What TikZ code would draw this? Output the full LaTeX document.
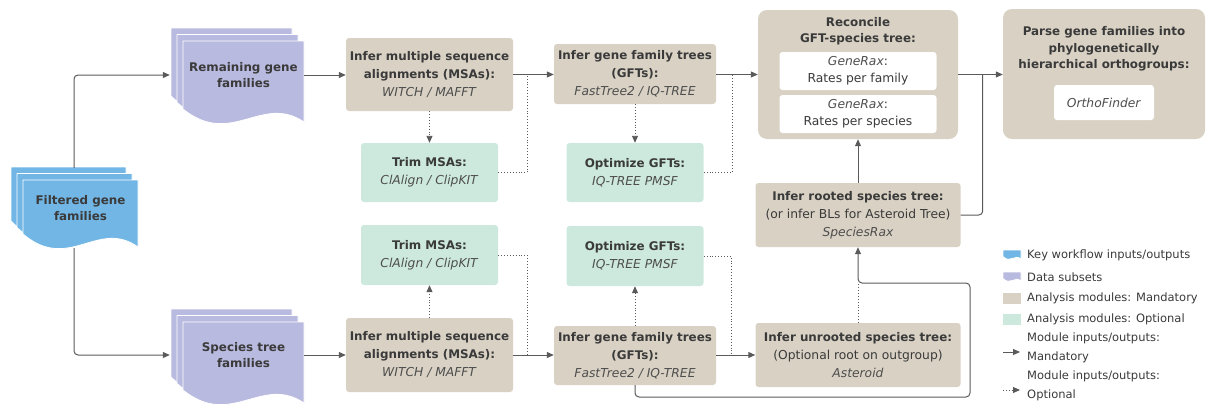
\documentclass[tikz,border=0pt]{standalone}
\usepackage{fontspec}
\setmainfont{DejaVu Sans}
\usetikzlibrary{arrows.meta,calc}
\definecolor{docblue}{HTML}{72B6E5}
\definecolor{docpurple}{HTML}{B9BAE0}
\definecolor{tan}{HTML}{D8D1C4}
\definecolor{mint}{HTML}{CDE9DE}
\definecolor{ln}{HTML}{5A5A5A}
\definecolor{txt}{HTML}{3A3A3A}
\definecolor{sub}{HTML}{4E4E4E}
% x0 y0 x1 yb color amplitude
\newcommand{\docpage}[6]{%
  \fill[#5, draw=white, line width=0.8pt] (#1,{#4-#6}) -- (#1,#2) -- (#3,#2) -- (#3,#4)
    .. controls ({#3-0.35*(#3-#1)},{#4-2.2*#6}) and ({#1+0.4*(#3-#1)},{#4+2*#6}) .. (#1,{#4-#6}) -- cycle;}
\newcommand{\docstack}[5]{%
  \docpage{#1-12}{#2-13}{#3-12}{#4-13}{#5}{13}%
  \docpage{#1-6}{#2-6.5}{#3-6}{#4-6.5}{#5}{13}%
  \docpage{#1}{#2}{#3}{#4}{#5}{13}}
\tikzset{
  fnt/.style={font=\fontsize{12.3}{18}\selectfont},
  mand/.style={fill=tan, rounded corners=3pt, align=center, inner sep=0pt, text=txt, fnt},
  optb/.style={fill=mint, rounded corners=3pt, align=center, inner sep=0pt, text=txt, fnt},
  big/.style={fill=tan, rounded corners=9pt, inner sep=0pt},
  wbox/.style={fill=white, rounded corners=3pt, align=center, inner sep=0pt, text=txt, font=\fontsize{12.3}{17}\selectfont},
  doctext/.style={align=center, inner sep=0pt, text=txt, font=\fontsize{11.9}{16.5}\selectfont\bfseries},
  arr/.style={draw=ln, line width=1pt, -{Triangle[length=7pt,width=6pt]}},
  dotarr/.style={draw=ln, line width=0.9pt, dotted, -{Triangle[length=7pt,width=6pt]}},
  dotln/.style={draw=ln, line width=0.9pt, dotted},
  solidln/.style={draw=ln, line width=1pt},
  leg/.style={anchor=west, align=left, inner sep=0pt, text=txt, font=\fontsize{11.5}{19}\selectfont},
}
\newcommand{\sw}[1]{\textcolor{sub}{\textit{#1}}}
\newcommand{\hb}[1]{{\fontsize{11.9}{18}\selectfont\bfseries #1}}
\begin{document}
\begin{tikzpicture}[x=1pt,y=-1pt]
\useasboundingbox (0,0) rectangle (1207,408);

% documents
\docstack{23}{180}{138}{247}{docblue}
\docstack{183}{41}{304}{122}{docpurple}
\docstack{183}{322}{304}{403}{docpurple}

\node[doctext, minimum width=115pt, minimum height=80pt] (filt) at (80.5,208) {Filtered gene\\families};
\node[doctext, minimum width=121pt] (rem) at (243.5,75) {Remaining gene\\families};
\node[doctext, minimum width=121pt] (spe) at (243.5,355) {Species tree\\families};

% top row
\node[mand, minimum width=167pt, minimum height=73pt] (msa1) at (429.5,74.5)
  {\hb{Infer multiple sequence}\\\hb{alignments (MSAs):}\\\sw{WITCH / MAFFT}};
\node[optb, minimum width=137pt, minimum height=59pt] (trim1) at (429.5,172.5)
  {\hb{Trim MSAs:}\\\sw{ClAlign / ClipKIT}};
\node[mand, minimum width=162pt, minimum height=60pt] (gft1) at (635,74)
  {\hb{Infer gene family trees}\\\hb{(GFTs):}\\\sw{FastTree2 / IQ-TREE}};
\node[optb, minimum width=137pt, minimum height=59pt] (opt1) at (635,172.5)
  {\hb{Optimize GFTs:}\\\sw{IQ-TREE PMSF}};

\node[big, minimum width=200pt, minimum height=129pt] (rec) at (858,74.5) {};
\node[doctext] (recT) at (858,31) {Reconcile\\GFT-species tree:};
\node[wbox, minimum width=157pt, minimum height=38pt] (gr1) at (858,71) {\sw{GeneRax}:\\Rates per family};
\node[wbox, minimum width=157pt, minimum height=38pt] (gr2) at (858,114) {\sw{GeneRax}:\\Rates per species};

\node[big, minimum width=202pt, minimum height=130pt] (parse) at (1104,74) {};
\node[doctext] (parseT) at (1104,49) {Parse gene families into\\phylogenetically\\hierarchical orthogroups:};
\node[wbox, minimum width=100pt, minimum height=35pt] (ortho) at (1104,102.5) {\sw{OrthoFinder}};

\node[mand, minimum width=205pt, minimum height=64pt] (rooted) at (858,215)
  {\hb{Infer rooted species tree:}\\(or infer BLs for Asteroid Tree)\\\sw{SpeciesRax}};
\node[mand, minimum width=205pt, minimum height=64pt] (unrooted) at (858,355)
  {\hb{Infer unrooted species tree:}\\(Optional root on outgroup)\\\sw{Asteroid}};

% bottom row
\node[optb, minimum width=137pt, minimum height=60pt] (trim2) at (429.5,255)
  {\hb{Trim MSAs:}\\\sw{ClAlign / ClipKIT}};
\node[mand, minimum width=167pt, minimum height=74pt] (msa2) at (429.5,355)
  {\hb{Infer multiple sequence}\\\hb{alignments (MSAs):}\\\sw{WITCH / MAFFT}};
\node[mand, minimum width=162pt, minimum height=59pt] (gft2) at (635,355.5)
  {\hb{Infer gene family trees}\\\hb{(GFTs):}\\\sw{FastTree2 / IQ-TREE}};
\node[optb, minimum width=137pt, minimum height=60pt] (opt2) at (635,256)
  {\hb{Optimize GFTs:}\\\sw{IQ-TREE PMSF}};

% connectors
\draw[arr, rounded corners=4pt] ([xshift=-6.5pt]filt.north) |- ([xshift=-13pt]rem.west);
\draw[arr, rounded corners=4pt] ([xshift=-6.5pt]filt.south) |- ([xshift=-13pt]spe.west);

\draw[arr] (rem.east) -- (msa1.west |- rem.east);
\draw[arr] (msa1.east) -- (gft1.west |- msa1.east);
\draw[arr] (gft1.east |- msa1.east) -- (rec.west |- msa1.east);
\draw[arr] (rec.east |- msa1.east) -- (parse.west |- msa1.east);
\draw[dotarr] (msa1.south) -- (trim1.north);
\draw[dotln] (trim1.east) -| ($(msa1.east)!0.34!(gft1.west |- msa1.east)$);
\draw[dotarr] (gft1.south) -- (opt1.north);
\draw[dotln] (opt1.east) -| ($(gft1.east |- msa1.east)!0.38!(rec.west |- msa1.east)$);

\draw[arr] (rooted.north) -- (rec.south);
\draw[solidln, rounded corners=4pt] (rooted.east) -| ($(rec.east |- msa1.east)!0.55!(parse.west |- msa1.east)$);

\draw[arr] (spe.east) -- (msa2.west |- spe.east);
\draw[arr] (msa2.east |- spe.east) -- (gft2.west |- spe.east);
\draw[arr] (gft2.east |- spe.east) -- (unrooted.west |- spe.east);
\draw[dotarr] (msa2.north) -- (trim2.south);
\draw[dotln] (trim2.east) -| ($(msa2.east |- spe.east)!0.34!(gft2.west |- spe.east)$);
\draw[dotarr] (gft2.north) -- (opt2.south);
\draw[dotln] (opt2.east) -| ($(gft2.east |- spe.east)!0.38!(unrooted.west |- spe.east)$);

\coordinate (loopR) at (970,397);
\coordinate (joinpt) at (858,283);
\draw[arr, rounded corners=4pt] (gft2.south) |- (loopR) |- (joinpt) -- (rooted.south);
\draw[dotln] (unrooted.north) -- (joinpt);

% legend
\docpage{1003}{250}{1021}{259}{docblue}{2.5}
\docpage{1003}{272}{1021}{281}{docpurple}{2.5}
\fill[tan] (1003,293) rectangle (1021,304);
\fill[mint] (1003,314) rectangle (1021,325);
\coordinate (lm1) at (1003,352);
\coordinate (lm2) at (1020,352);
\draw[arr] (lm1) -- (lm2);
\coordinate (lo1) at (1003,390);
\coordinate (lo2) at (1020,390);
\draw[dotarr] (lo1) -- (lo2);
\node[leg] (L1) at (1027,255) {Key workflow inputs/outputs};
\node[leg] (L2) at (1027,277) {Data subsets};
\node[leg] (L3) at (1027,298) {Analysis modules: Mandatory};
\node[leg] (L4) at (1027,319) {Analysis modules: Optional};
\node[leg] (L5) at (1027,347.5) {Module inputs/outputs:\\Mandatory};
\node[leg] (L6) at (1027,386) {Module inputs/outputs:\\Optional};
\end{tikzpicture}
\end{document}
